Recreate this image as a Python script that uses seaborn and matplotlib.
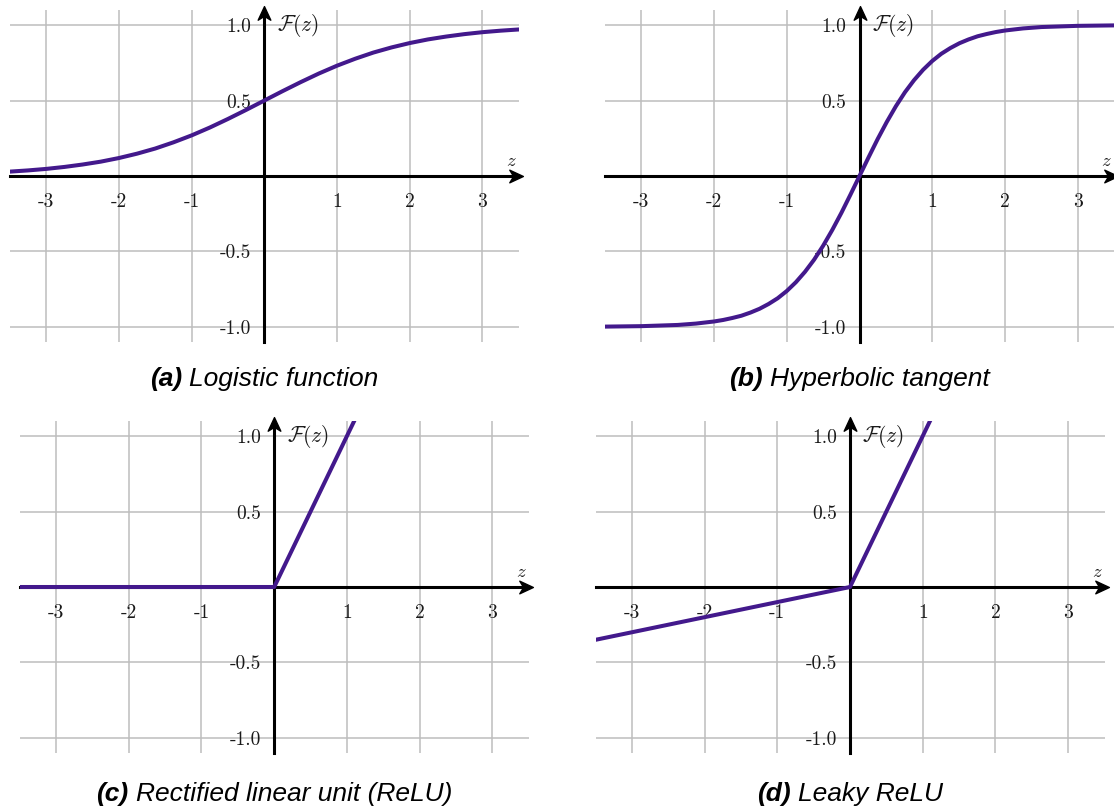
import matplotlib
matplotlib.use('Agg')
import matplotlib.pyplot as plt
from matplotlib.path import Path
import pandas as pd
import seaborn as sns

# ==============================
# Data
# ==============================
z_logistic = [-3.5, -3.25, -3.0, -2.75, -2.5, -2.25, -2.0, -1.75, -1.5, -1.25,
              -1.0, -0.75, -0.5, -0.25, 0.0, 0.25, 0.5, 0.75, 1.0, 1.25,
              1.5, 1.75, 2.0, 2.25, 2.5, 2.75, 3.0, 3.25, 3.5]
logistic = [0.029, 0.037, 0.047, 0.060, 0.076, 0.095, 0.119, 0.148, 0.182, 0.223,
            0.269, 0.321, 0.378, 0.438, 0.500, 0.562, 0.622, 0.679, 0.731, 0.777,
            0.818, 0.852, 0.881, 0.905, 0.924, 0.940, 0.953, 0.963, 0.971]

z_tanh = [-3.5, -3.0, -2.5, -2.25, -2.0, -1.875, -1.75, -1.625, -1.5, -1.375,
          -1.25, -1.125, -1.0, -0.875, -0.75, -0.625, -0.5, -0.375, -0.25, -0.125,
          0.0, 0.125, 0.25, 0.375, 0.5, 0.625, 0.75, 0.875, 1.0, 1.125,
          1.25, 1.375, 1.5, 1.625, 1.75, 1.875, 2.0, 2.25, 2.5, 3.0, 3.5]
tanh_vals = [-0.998, -0.995, -0.987, -0.978, -0.964, -0.954, -0.941, -0.926, -0.905, -0.880,
             -0.848, -0.810, -0.762, -0.704, -0.635, -0.555, -0.462, -0.358, -0.245, -0.124,
             0.000, 0.124, 0.245, 0.358, 0.462, 0.555, 0.635, 0.704, 0.762, 0.810,
             0.848, 0.880, 0.905, 0.926, 0.941, 0.954, 0.964, 0.978, 0.987, 0.995, 0.998]

z_piece = [-3.5, 0.0, 3.5]
relu = [0.0, 0.0, 3.5]
leaky_relu = [-0.35, 0.0, 3.5]

x_ticks = [-3, -2, -1, 1, 2, 3]
x_tick_labels = ['-3', '-2', '-1', '1', '2', '3']
y_ticks = [-1.0, -0.5, 0.5, 1.0]
y_tick_labels = ['-1.0', '-0.5', '0.5', '1.0']

tags = ['(a)', '(b)', '(c)', '(d)']
captions = ['Logistic function', 'Hyperbolic tangent',
            'Rectified linear unit (ReLU)', 'Leaky ReLU']

# ==============================
# Style
# ==============================
sns.set_style('white')
plt.rcParams['mathtext.fontset'] = 'cm'

line_color = '#43198c'
grid_color = '#bdbdbd'
text_color = '#1a1a1a'

W, H = 1114, 811
fig = plt.figure(figsize=(W / 100, H / 100), dpi=100)

# axes boxes in pixels: left, top
boxes = [(9.8, 10), (605, 10), (19.7, 421), (595.5, 421)]
ax_w, ax_h = 509, 332

# arrow head marker (concave back)
arrow_right = Path([(0.4, 0), (-1.0, 0.65), (-0.6, 0), (-1.0, -0.65), (0.4, 0)],
                   [Path.MOVETO, Path.LINETO, Path.LINETO, Path.LINETO, Path.CLOSEPOLY])
arrow_up = Path([(0, 0.4), (0.65, -1.0), (0, -0.6), (-0.65, -1.0), (0, 0.4)],
                [Path.MOVETO, Path.LINETO, Path.LINETO, Path.LINETO, Path.CLOSEPOLY])

frames = [
    pd.DataFrame({'z': z_logistic, 'f': logistic}),
    pd.DataFrame({'z': z_tanh, 'f': tanh_vals}),
    pd.DataFrame({'z': z_piece, 'f': relu}),
    pd.DataFrame({'z': z_piece, 'f': leaky_relu}),
]

axes = []
for (left, top), df in zip(boxes, frames):
    ax = fig.add_axes([left / W, 1 - (top + ax_h) / H, ax_w / W, ax_h / H])
    ax.set_xlim(-3.5, 3.5)
    ax.set_ylim(-1.1, 1.1)

    # grid
    ax.set_axisbelow(True)
    ax.set_xticks(x_ticks)
    ax.set_yticks(y_ticks)
    ax.grid(True, color=grid_color, linewidth=1.1)

    # axes through origin
    for s in ['top', 'right']:
        ax.spines[s].set_visible(False)
    ax.spines['left'].set_position(('data', 0))
    ax.spines['bottom'].set_position(('data', 0))
    for s in ['left', 'bottom']:
        ax.spines[s].set_linewidth(2.2)
        ax.spines[s].set_color('black')

    ax.set_xticklabels(x_tick_labels, fontfamily='cmr10', fontsize=14, color=text_color)
    ax.set_yticklabels(y_tick_labels, fontfamily='cmr10', fontsize=14, color=text_color)
    ax.tick_params(axis='x', direction='out', length=4.5, width=1.5, pad=7.5)
    ax.tick_params(axis='y', direction='out', length=4.5, width=1.5, pad=5)

    # curve
    sns.lineplot(data=df, x='z', y='f', ax=ax, color=line_color, linewidth=2.9,
                 legend=False, zorder=4, sort=False)
    ax.set_xlabel('')
    ax.set_ylabel('')

    # arrow heads
    ax.plot(1, 0, marker=arrow_right, ms=14, color='black',
            transform=ax.get_yaxis_transform(), clip_on=False, zorder=5)
    ax.plot(0, 1, marker=arrow_up, ms=14, color='black',
            transform=ax.get_xaxis_transform(), clip_on=False, zorder=5)

    # axis labels
    ax.text(0.17, 1.0, r'$\mathcal{F}(z)$', fontsize=15.5, va='center', ha='left',
            color=text_color)
    ax.text(3.4, 0.1, r'$z$', fontsize=13.5, va='center', ha='center', color=text_color)
    axes.append(ax)

# ==============================
# Captions
# ==============================
renderer = fig.canvas.get_renderer()
baselines = [386, 386, 801, 801]
for ax, (left, top), tag, cap, base in zip(axes, boxes, tags, captions, baselines):
    xc = left + ax_w / 2
    t1 = fig.text(0, 1 - base / H, tag, fontfamily='Liberation Sans', fontsize=19,
                  fontweight='bold', style='italic', va='baseline', ha='left', color='black')
    t2 = fig.text(0, 1 - base / H, cap, fontfamily='Liberation Sans', fontsize=19,
                  style='italic', va='baseline', ha='left', color='black')
    w1 = t1.get_window_extent(renderer).width
    w2 = t2.get_window_extent(renderer).width
    gap = 7
    x0 = xc - (w1 + gap + w2) / 2
    t1.set_x(x0 / W)
    t2.set_x((x0 + w1 + gap) / W)

fig.savefig('out.png', dpi=100)
